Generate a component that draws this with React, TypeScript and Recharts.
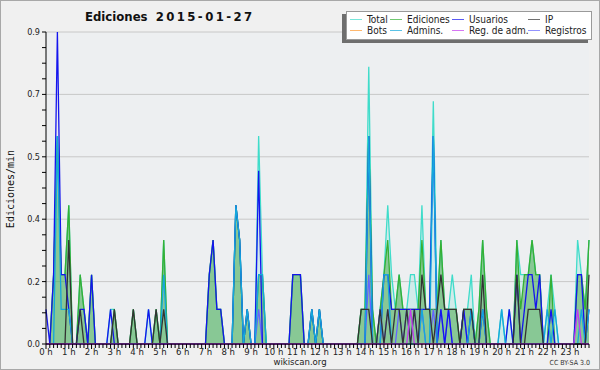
import { Area, CartesianGrid, ComposedChart, Line, XAxis, YAxis } from 'recharts'

// edits counted per 10-minute slot (144 slots, 00:00 .. 23:50); plotted as edits/min
const HOURS = [
  '0 h', '1 h', '2 h', '3 h', '4 h', '5 h', '6 h', '7 h', '8 h', '9 h', '10 h', '11 h',
  '12 h', '13 h', '14 h', '15 h', '16 h', '17 h', '18 h', '19 h', '20 h', '21 h', '22 h', '23 h',
]

const TOTAL = [
  0, 0, 2, 6, 2, 2, 4, 0, 0, 2, 1, 0,
  2, 0, 0, 0, 0, 1, 1, 0, 0, 0, 0, 1,
  0, 0, 0, 1, 0, 1, 0, 3, 0, 0, 0, 0,
  0, 0, 0, 0, 0, 0, 0, 2, 3, 1, 1, 0,
  0, 0, 4, 3, 0, 1, 0, 0, 6, 2, 0, 0,
  0, 0, 0, 0, 0, 2, 2, 2, 0, 0, 1, 0,
  1, 0, 0, 0, 0, 0, 0, 0, 0, 0, 0, 1,
  1, 8, 1, 0, 1, 2, 4, 2, 1, 2, 1, 1,
  2, 2, 1, 4, 1, 1, 7, 1, 3, 1, 1, 2,
  1, 0, 1, 1, 2, 0, 1, 3, 1, 0, 0, 0,
  1, 0, 1, 0, 3, 2, 2, 2, 3, 2, 2, 0,
  1, 2, 1, 0, 0, 0, 0, 0, 3, 2, 1, 3,
]

const EDITS = [
  0, 0, 2, 6, 2, 2, 4, 0, 0, 2, 1, 0,
  2, 0, 0, 0, 0, 0, 1, 0, 0, 0, 0, 1,
  0, 0, 0, 0, 0, 1, 0, 3, 0, 0, 0, 0,
  0, 0, 0, 0, 0, 0, 0, 2, 3, 1, 1, 0,
  0, 0, 4, 3, 0, 1, 0, 0, 2, 2, 0, 0,
  0, 0, 0, 0, 0, 2, 2, 2, 0, 0, 1, 0,
  1, 0, 0, 0, 0, 0, 0, 0, 0, 0, 0, 1,
  1, 6, 1, 0, 1, 2, 3, 1, 1, 2, 1, 1,
  1, 1, 1, 3, 1, 1, 1, 1, 3, 1, 1, 1,
  1, 0, 1, 1, 1, 0, 1, 3, 1, 0, 0, 0,
  0, 0, 0, 0, 3, 1, 2, 2, 3, 2, 2, 0,
  0, 2, 0, 0, 0, 0, 0, 0, 2, 2, 1, 3,
]

const USERS = [
  1, 0, 2, 9, 2, 2, 1, 0, 0, 1, 1, 0,
  2, 0, 0, 0, 0, 1, 0, 0, 0, 0, 0, 0,
  0, 0, 0, 1, 0, 0, 0, 0, 0, 0, 0, 0,
  0, 0, 0, 0, 0, 0, 0, 2, 3, 1, 1, 0,
  0, 0, 4, 3, 0, 1, 0, 0, 5, 0, 0, 0,
  0, 0, 0, 0, 0, 2, 2, 2, 0, 0, 1, 0,
  1, 0, 0, 0, 0, 0, 0, 0, 0, 0, 0, 0,
  0, 6, 0, 0, 0, 2, 2, 1, 1, 1, 1, 1,
  1, 1, 1, 1, 1, 1, 6, 0, 1, 0, 1, 0,
  0, 0, 1, 0, 1, 0, 0, 1, 0, 0, 0, 0,
  0, 0, 1, 0, 2, 0, 1, 2, 2, 1, 2, 0,
  0, 1, 0, 0, 0, 0, 0, 0, 2, 2, 0, 1,
]

const IP = [
  0, 0, 0, 0, 0, 0, 3, 0, 0, 1, 0, 0,
  0, 0, 0, 0, 0, 0, 1, 0, 0, 0, 0, 1,
  0, 0, 0, 0, 0, 1, 0, 1, 0, 0, 0, 0,
  0, 0, 0, 0, 0, 0, 0, 0, 0, 0, 0, 0,
  0, 0, 0, 0, 0, 0, 0, 0, 0, 0, 0, 0,
  0, 0, 0, 0, 0, 0, 0, 0, 0, 0, 0, 0,
  0, 0, 0, 0, 0, 0, 0, 0, 0, 0, 0, 1,
  1, 1, 0, 0, 1, 0, 1, 0, 1, 1, 0, 1,
  0, 1, 0, 2, 1, 1, 0, 1, 2, 1, 1, 1,
  1, 0, 1, 1, 1, 0, 0, 2, 0, 0, 0, 0,
  0, 0, 0, 0, 2, 0, 0, 1, 1, 1, 1, 0,
  0, 0, 0, 0, 0, 0, 0, 0, 0, 0, 0, 2,
]

const BOTS = [
  0, 0, 0, 0, 0, 0, 0, 0, 0, 0, 0, 0,
  0, 0, 0, 0, 0, 0, 0, 0, 0, 0, 0, 0,
  0, 0, 0, 0, 0, 0, 0, 0, 0, 0, 0, 0,
  0, 0, 0, 0, 0, 0, 0, 0, 0, 0, 0, 0,
  0, 0, 0, 0, 0, 0, 0, 0, 0, 0, 0, 0,
  0, 0, 0, 0, 0, 0, 0, 0, 0, 0, 0, 0,
  0, 0, 0, 0, 0, 0, 0, 0, 0, 0, 0, 0,
  0, 0, 0, 0, 0, 0, 0, 0, 0, 0, 0, 0,
  0, 0, 0, 0, 0, 0, 0, 0, 0, 0, 0, 0,
  0, 0, 0, 0, 0, 0, 0, 0, 0, 0, 0, 0,
  0, 0, 0, 0, 0, 0, 0, 0, 0, 0, 0, 0,
  0, 0, 0, 0, 0, 0, 0, 0, 0, 0, 0, 0,
]

const ADMINS = [
  0, 0, 0, 6, 1, 1, 1, 0, 0, 0, 0, 0,
  0, 0, 0, 0, 0, 0, 0, 0, 0, 0, 0, 0,
  0, 0, 0, 0, 0, 0, 0, 2, 0, 0, 0, 0,
  0, 0, 0, 0, 0, 0, 0, 0, 0, 0, 0, 0,
  0, 0, 4, 3, 0, 1, 0, 0, 2, 2, 0, 0,
  0, 0, 0, 0, 0, 0, 0, 0, 0, 0, 1, 0,
  1, 0, 0, 0, 0, 0, 0, 0, 0, 0, 0, 0,
  0, 6, 0, 0, 0, 2, 2, 0, 0, 0, 0, 0,
  0, 0, 0, 1, 0, 0, 6, 0, 0, 0, 0, 0,
  0, 0, 0, 0, 1, 0, 0, 1, 0, 0, 0, 0,
  1, 0, 0, 0, 0, 0, 0, 0, 0, 0, 0, 0,
  1, 0, 1, 0, 0, 0, 0, 0, 0, 1, 0, 1,
]

const ADMIN_LOGS = [
  0, 0, 0, 0, 0, 0, 0, 0, 0, 0, 0, 0,
  0, 0, 0, 0, 0, 0, 0, 0, 0, 0, 0, 0,
  0, 0, 0, 0, 0, 0, 0, 0, 0, 0, 0, 0,
  0, 0, 0, 0, 0, 0, 0, 0, 0, 0, 0, 0,
  0, 0, 0, 0, 0, 0, 0, 0, 0, 0, 0, 0,
  0, 0, 0, 0, 0, 0, 0, 0, 0, 0, 0, 0,
  0, 0, 0, 0, 0, 0, 0, 0, 0, 0, 0, 0,
  0, 0, 0, 0, 0, 0, 0, 0, 0, 0, 0, 0,
  1, 0, 0, 0, 0, 0, 0, 0, 0, 0, 0, 0,
  0, 0, 0, 0, 0, 0, 0, 0, 0, 0, 0, 0,
  0, 0, 0, 0, 0, 0, 0, 0, 0, 0, 0, 0,
  0, 0, 0, 0, 0, 0, 0, 0, 1, 0, 0, 0,
]

const LOGS = [
  0, 0, 0, 0, 0, 0, 0, 0, 0, 0, 0, 0,
  0, 0, 0, 0, 0, 0, 0, 0, 0, 0, 0, 0,
  0, 0, 0, 0, 0, 0, 0, 0, 0, 0, 0, 0,
  0, 0, 0, 0, 0, 0, 0, 0, 0, 0, 0, 0,
  0, 0, 0, 0, 0, 0, 0, 0, 1, 0, 0, 0,
  0, 0, 0, 0, 0, 0, 0, 0, 0, 0, 0, 0,
  0, 0, 0, 0, 0, 0, 0, 0, 0, 0, 0, 0,
  0, 2, 0, 0, 1, 0, 1, 0, 0, 1, 0, 1,
  0, 1, 0, 1, 0, 0, 1, 0, 1, 0, 1, 0,
  0, 0, 1, 0, 0, 0, 0, 0, 0, 0, 0, 0,
  0, 0, 0, 0, 0, 0, 0, 0, 0, 0, 0, 0,
  0, 0, 0, 0, 0, 0, 0, 0, 0, 0, 0, 0,
]

const Y_MAJOR = [0, 0.18, 0.36, 0.54, 0.72, 0.9]

const SERIES = [
  { key: 'total', name: 'Total', color: '#3fdcca', counts: TOTAL },
  { key: 'edits', name: 'Ediciones', color: '#35b035', counts: EDITS },
  { key: 'users', name: 'Usuarios', color: '#1414ee', counts: USERS },
  { key: 'ip', name: 'IP', color: '#333333', counts: IP },
  { key: 'bots', name: 'Bots', color: '#ff9a30', counts: BOTS },
  { key: 'admins', name: 'Admins.', color: '#14a8dc', counts: ADMINS },
  { key: 'adminLogs', name: 'Reg. de adm.', color: '#c43cf0', counts: ADMIN_LOGS },
  { key: 'logs', name: 'Registros', color: '#6464ff', counts: LOGS },
]

const rows = TOTAL.map((_, slot) => {
  const row: Record<string, number> = { slot }
  SERIES.forEach((s) => {
    row[s.key] = s.counts[slot] / 10
  })
  return row
})

const FONT = "'DejaVu Sans Condensed', 'DejaVu Sans', sans-serif"
const color = (key: string) => SERIES.find((s) => s.key === key)!.color

// minor ticks every quarter of a labelled step
const yTicks = Y_MAJOR.slice(1).flatMap((v, k) => {
  const prev = Y_MAJOR[k]
  return [prev, prev + (v - prev) / 4, prev + (v - prev) / 2, prev + (3 * (v - prev)) / 4]
}).concat([0.9])

function HourTick({ x, y, payload }: any) {
  const v = payload.value
  const major = v % 6 === 0
  return (
    <g>
      <line x1={x} x2={x} y1={y} y2={y + (major ? 5 : 4)} stroke="#000" strokeWidth={1} />
      {major && (
        <text x={x} y={y + 11} textAnchor="middle" fontSize={9.5} fontFamily={FONT} fill="#222">
          {HOURS[v / 6]}
        </text>
      )}
    </g>
  )
}

function RateTick({ x, y, payload }: any) {
  const v = payload.value
  const major = Y_MAJOR.some((m) => Math.abs(m - v) < 1e-6)
  return (
    <g>
      <line x1={x - 4} x2={x} y1={y} y2={y} stroke="#000" strokeWidth={1} />
      {major && (
        <text x={x - 6} y={y + 3} textAnchor="end" fontSize={9} fontFamily={FONT} fill="#222">
          {v.toFixed(1)}
        </text>
      )}
    </g>
  )
}

const LEGEND_POS = [
  { left: 350, top: 13 }, { left: 390, top: 13 }, { left: 452, top: 13 }, { left: 528, top: 13 },
  { left: 350, top: 24 }, { left: 390, top: 24 }, { left: 452, top: 24 }, { left: 528, top: 24 },
]

export default function App() {
  return (
    <div style={{ position: 'absolute', left: 0, top: 0, width: 600, height: 370, background: '#f0f0f0', fontFamily: FONT }}>
      <ComposedChart width={600} height={370} data={rows} margin={{ top: 32, right: 11, bottom: 0, left: 0 }}>
        <CartesianGrid vertical={false} horizontalValues={Y_MAJOR.slice(1)} stroke="#c8c8c8" fill="#edeff1" />
        <Area type="linear" dataKey="total" stroke={color('total')} strokeWidth={1.3} fill={color('total')} fillOpacity={0.16} dot={false} activeDot={false} isAnimationActive={false} />
        <Area type="linear" dataKey="edits" stroke={color('edits')} strokeWidth={1.3} fill="#2e9e2e" fillOpacity={0.45} dot={false} activeDot={false} isAnimationActive={false} />
        <Line type="linear" dataKey="bots" stroke={color('bots')} strokeWidth={1.3} dot={false} activeDot={false} isAnimationActive={false} />
        <Line type="linear" dataKey="logs" stroke={color('logs')} strokeWidth={1.3} dot={false} activeDot={false} isAnimationActive={false} />
        <Line type="linear" dataKey="users" stroke={color('users')} strokeWidth={1.3} dot={false} activeDot={false} isAnimationActive={false} />
        <Line type="linear" dataKey="admins" stroke={color('admins')} strokeWidth={1.3} dot={false} activeDot={false} isAnimationActive={false} />
        <Line type="linear" dataKey="ip" stroke={color('ip')} strokeWidth={1.3} dot={false} activeDot={false} isAnimationActive={false} />
        <Line type="linear" dataKey="adminLogs" stroke={color('adminLogs')} strokeWidth={1.3} dot={false} activeDot={false} isAnimationActive={false} />
        <XAxis
          dataKey="slot"
          type="number"
          domain={[0, rows.length - 1]}
          ticks={rows.map((r) => r.slot)}
          interval={0}
          height={26}
          tickLine={false}
          tickSize={0}
          tickMargin={0}
          axisLine={{ stroke: '#000' }}
          tick={<HourTick />}
        />
        <YAxis
          type="number"
          domain={[0, 0.9]}
          ticks={yTicks}
          interval={0}
          width={46}
          tickLine={false}
          tickSize={0}
          tickMargin={0}
          axisLine={{ stroke: '#000' }}
          tick={<RateTick />}
        />
      </ComposedChart>

      <div style={{ position: 'absolute', left: 85, top: 9, fontSize: 13, fontWeight: 'bold', color: '#111', whiteSpace: 'pre' }}>
        {'Ediciones  '}
        <span style={{ letterSpacing: 2.4 }}>2015-01-27</span>
      </div>

      <div
        style={{
          position: 'absolute', left: 4, top: 189, transform: 'translate(-50%, -50%) rotate(-90deg)', transformOrigin: 'center',
          fontFamily: "'DejaVu Sans Mono', monospace", fontSize: 10, color: '#111', whiteSpace: 'nowrap', marginLeft: 6,
        }}
      >
        Ediciones/min
      </div>

      <div style={{ position: 'absolute', left: 346, top: 11, width: 244, height: 27, background: '#fff', border: '1px solid #9a9a9a', boxShadow: '-4px 3px 0 #6e6e6e' }} />
      {SERIES.map((s, k) => (
        <div key={s.key} style={{ position: 'absolute', left: LEGEND_POS[k].left, top: LEGEND_POS[k].top, height: 12, display: 'flex', alignItems: 'center', fontSize: 10, color: '#222', whiteSpace: 'nowrap' }}>
          <span style={{ display: 'inline-block', width: 12, height: 1, background: s.color, opacity: 0.7, marginRight: 5 }} />
          {s.name}
        </div>
      ))}

      <div style={{ position: 'absolute', left: 0, width: 600, top: 357, lineHeight: '10px', textAlign: 'center', fontSize: 9.5, color: '#222' }}>wikiscan.org</div>
      <div style={{ position: 'absolute', right: 10, top: 359, lineHeight: '8px', fontSize: 7, color: '#333' }}>CC BY-SA 3.0</div>
      <div style={{ position: 'absolute', left: 0, top: 0, width: 600, height: 370, boxSizing: 'border-box', border: '1px solid #a8a8a8', pointerEvents: 'none' }} />
    </div>
  )
}
